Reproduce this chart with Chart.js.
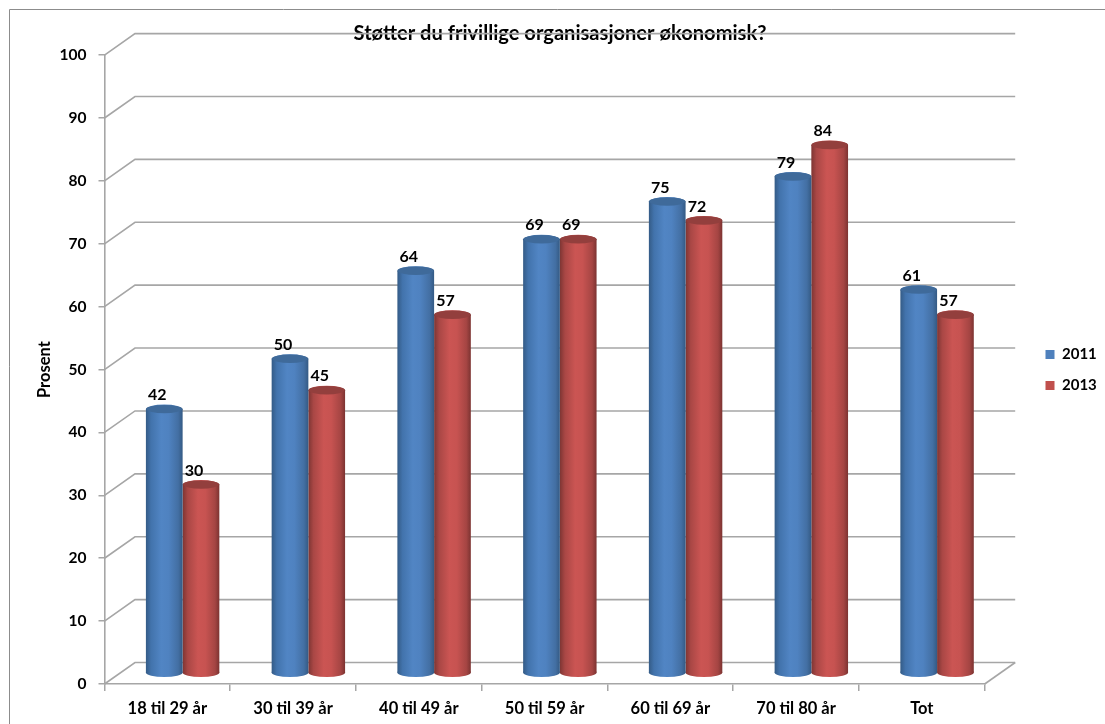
<!DOCTYPE html>
<html>
<head>
<meta charset="utf-8">
<script src="https://cdn.jsdelivr.net/npm/chart.js@4/dist/chart.umd.min.js"></script>
<style>
html,body{margin:0;padding:0;background:#fff;overflow:hidden}
#wrap{position:relative;width:1105px;height:724px}
</style>
</head>
<body>
<div id="wrap"><canvas id="chart"></canvas></div>
<script>
/* data */
const categories = ['18 til 29 år','30 til 39 år','40 til 49 år','50 til 59 år','60 til 69 år','70 til 80 år','Tot'];
const values2011 = [42,50,64,69,75,79,61];
const values2013 = [30,45,57,69,72,84,57];
const seriesNames = ['2011','2013'];
const chartTitle = 'Støtter du frivillige organisasjoner økonomisk?';
const yTitle = 'Prosent';

const FONT = 'Lato, "Open Sans", sans-serif';
const GRID = '#a6a6a6';
const DEPTH_X = 30.5, DEPTH_Y = 21.5;   // back wall offset from the front axes
const RX_RY = 4.5;                      // cylinder cap half height
const LEGEND_PAD = 16;

const flat = ['#4f81bd','#c0504d'];
const capCol = ['#3f6a9a','#933f3d'];
const stops = [
  ['#345b86','#4273ac','#5185c4','#4f82c0','#436fa3','#345a84'],
  ['#7d3533','#a94745','#cb5553','#c75351','#a54543','#7c3331']
];

function barGradient(c){
  // scales may not be laid out yet on the first pass
  if(c.dataIndex===undefined || !c.chart.scales.x) return flat[c.datasetIndex];
  const xs = c.chart.scales.x;
  const w  = xs.getPixelForValue(1)-xs.getPixelForValue(0);
  const bw = w*.584/2;
  const cx = xs.getPixelForValue(c.dataIndex);
  const l  = cx-bw+c.datasetIndex*bw;
  if(!isFinite(l) || !isFinite(bw)) return flat[c.datasetIndex];
  const g  = c.chart.ctx.createLinearGradient(l,0,l+bw,0);
  [0,.14,.42,.62,.88,1].forEach((p,i)=>g.addColorStop(p,stops[c.datasetIndex][i]));
  return g;
}

/* walls, floor and frame behind the bars */
const wallsPlugin = {
  id:'walls',
  afterLayout(chart){
    // legend sits further right than the space kept free for it
    const lg = chart.legend;
    const w = lg.width;
    lg.left = 1045.5-LEGEND_PAD; lg.right = lg.left+w;
    const h = lg.bottom-lg.top;
    lg.top = 370-h/2; lg.bottom = lg.top+h;
    // title is centred on the whole picture plus a bit, not on the padded box
    const tb = chart.titleBlock;
    const tw = tb.right-tb.left;
    tb.left = 560-tw/2; tb.right = tb.left+tw;
  },
  beforeDatasetsDraw(chart){
    const {ctx,scales:{x,y},chartArea:a} = chart;
    ctx.save();
    ctx.strokeStyle = GRID; ctx.lineWidth = 1.6;
    y.ticks.forEach(t=>{
      const py = y.getPixelForValue(t.value);
      ctx.beginPath();
      ctx.moveTo(a.left,py);
      ctx.lineTo(a.left+DEPTH_X,py-DEPTH_Y);
      ctx.lineTo(a.right+DEPTH_X,py-DEPTH_Y);
      ctx.stroke();
    });
    const py0 = y.getPixelForValue(0);
    ctx.beginPath();
    ctx.moveTo(a.right+DEPTH_X,py0-DEPTH_Y);
    ctx.lineTo(a.right,py0);
    ctx.stroke();
    ctx.restore();
    // bars stand halfway into the depth of the floor
    ctx.save();
    ctx.translate(DEPTH_X/2,-DEPTH_Y/2);
  },
  beforeDatasetDraw(chart,args){
    const {ctx} = chart;
    args.meta.data.forEach(b=>{
      ctx.fillStyle = b.options.backgroundColor;
      ctx.beginPath();
      ctx.ellipse(b.x,b.base,b.width/2,RX_RY,0,0,Math.PI*2);
      ctx.fill();
    });
  },
  afterDatasetDraw(chart,args){
    const {ctx} = chart;
    args.meta.data.forEach(b=>{
      ctx.fillStyle = b.options.backgroundColor;
      ctx.beginPath();
      ctx.ellipse(b.x,b.y,b.width/2,RX_RY,0,0,Math.PI*2);
      ctx.fill();
      ctx.fillStyle = capCol[args.index];
      ctx.beginPath();
      ctx.ellipse(b.x,b.y,b.width/2-.5,RX_RY-.3,0,0,Math.PI*2);
      ctx.fill();
    });
  },
  afterDatasetsDraw(chart){
    const {ctx} = chart;
    ctx.restore();
    // value labels
    ctx.save();
    ctx.font = 'bold 16px '+FONT;
    ctx.fillStyle = '#000';
    ctx.textAlign = 'center';
    ctx.textBaseline = 'middle';
    chart.data.datasets.forEach((ds,i)=>{
      chart.getDatasetMeta(i).data.forEach((b,j)=>{
        ctx.fillText(ds.data[j], b.x+DEPTH_X/2-7, b.y-DEPTH_Y/2-14);
      });
    });
    ctx.restore();
  },
  beforeDraw(chart){
    const {ctx,width,height} = chart;
    ctx.save();
    ctx.strokeStyle = '#8c8c8c'; ctx.lineWidth = 1;
    ctx.beginPath();
    ctx.moveTo(9.5,height);
    ctx.lineTo(9.5,9.5);
    ctx.lineTo(width,9.5);
    ctx.stroke();
    ctx.restore();
  }
};

new Chart(document.getElementById('chart'),{
  type:'bar',
  data:{
    labels:categories,
    datasets:[
      {label:seriesNames[0], data:values2011, backgroundColor:barGradient, borderWidth:0},
      {label:seriesNames[1], data:values2013, backgroundColor:barGradient, borderWidth:0}
    ]
  },
  options:{
    responsive:true, maintainAspectRatio:false, animation:false,
    layout:{padding:{left:31,right:43,top:0,bottom:0}},
    datasets:{bar:{barPercentage:1, categoryPercentage:.584}},
    plugins:{
      title:{display:true, text:chartTitle, color:'#000',
        font:{family:FONT,size:20.1,weight:'bold'}, padding:{top:21,bottom:10}},
      legend:{position:'right', labels:{boxWidth:9, boxHeight:9, color:'#000', padding:LEGEND_PAD,
        font:{family:FONT,size:15,weight:'bold'},
        generateLabels(chart){
          // flat swatches, the bars themselves carry the gradient
          return Chart.defaults.plugins.legend.labels.generateLabels(chart).map((l,i)=>({
            ...l, fillStyle:flat[i], strokeStyle:flat[i], lineWidth:0
          }));
        }}},
      tooltip:{enabled:false}
    },
    scales:{
      x:{
        grid:{display:true, drawOnChartArea:false, drawTicks:true, tickLength:7, color:GRID, lineWidth:1.5, offset:true},
        border:{color:GRID, width:1.6},
        ticks:{color:'#000', padding:8, maxRotation:0, font:{family:FONT,size:16.5,weight:'bold'}},
        afterFit(s){ s.height = 40; }
      },
      y:{
        min:0, max:100,
        grid:{display:true, drawOnChartArea:false, drawTicks:true, tickLength:6, color:GRID, lineWidth:1.5},
        border:{color:GRID, width:1.6},
        ticks:{stepSize:10, color:'#000', padding:12, font:{family:FONT,size:15.5,weight:'bold'}},
        title:{display:true, text:yTitle, color:'#000', font:{family:FONT,size:16.5,weight:'bold'}},
        afterFit(s){ s.width = 73.5; }
      }
    }
  },
  plugins:[wallsPlugin]
});
</script>
</body>
</html>
